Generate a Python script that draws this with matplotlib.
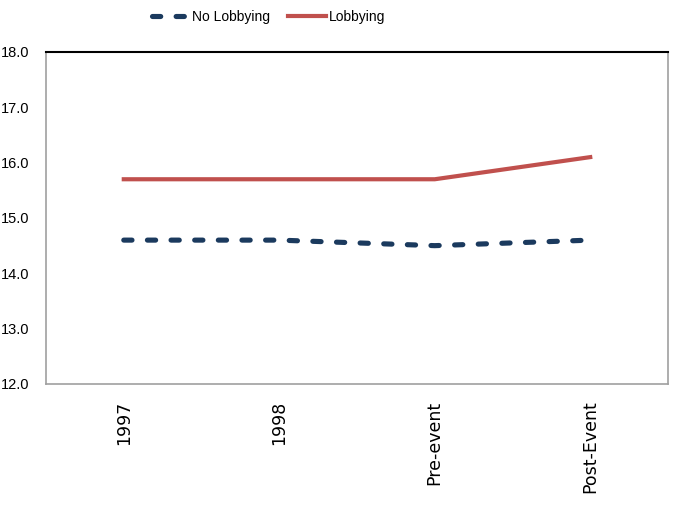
import numpy as np
import matplotlib.pyplot as plt

categories = ["1997", "1998", "Pre-event", "Post-Event"]
no_lobbying = [14.6, 14.6, 14.5, 14.6]
lobbying = [15.7, 15.7, 15.7, 16.1]
y_ticks = [12.0, 13.0, 14.0, 15.0, 16.0, 17.0, 18.0]

navy = "#1B3A5E"
red = "#C0504D"

narrow = ["Liberation Sans Narrow", "Liberation Sans", "DejaVu Sans"]

fig = plt.figure(figsize=(6.88, 5.22), dpi=100)
ax = fig.add_axes([0.0669, 0.2644, 0.904, 0.636])

x = np.arange(len(categories))
ax.plot(x, no_lobbying, color=navy, lw=3.7, linestyle=(0, (1.6, 3.0)),
        dash_capstyle="round", label="No Lobbying")
ax.plot(x, lobbying, color=red, lw=3.0, label="Lobbying")

ax.set_xlim(-0.5, len(categories) - 0.5)
ax.set_ylim(12, 18)
ax.set_yticks(y_ticks)
ax.set_yticklabels([f"{v:.1f}" for v in y_ticks], family=narrow, fontsize=10.5)
ax.set_xticks(x)
ax.set_xticklabels(categories, rotation=90, family="DejaVu Sans", fontsize=12.5,
                   va="top")
ax.tick_params(axis="x", length=0, pad=12)
ax.tick_params(axis="y", length=0, pad=12)

for side in ["left", "bottom", "right"]:
    ax.spines[side].set_color("#A0A0A0")
    ax.spines[side].set_linewidth(1.2)
ax.spines["top"].set_color("black")
ax.spines["top"].set_linewidth(1.5)

fig.legend(loc="center", bbox_to_anchor=(0.39, 0.968), ncol=2, frameon=False,
           prop={"family": narrow, "size": 10}, handlelength=2.7,
           handletextpad=0.2, columnspacing=1.3)

fig.savefig("out.png", dpi=100)
